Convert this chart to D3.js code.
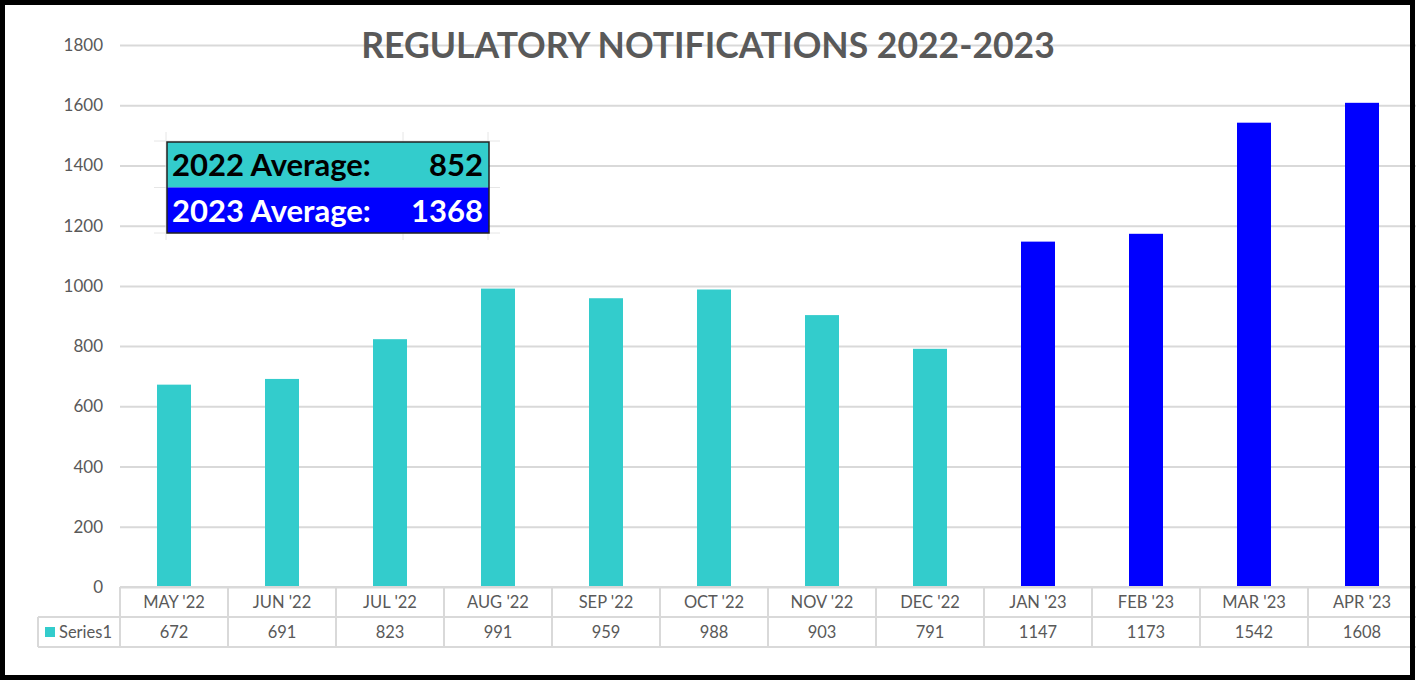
<!DOCTYPE html>
<html>
<head>
<meta charset="utf-8">
<script src="https://cdn.jsdelivr.net/npm/d3@7"></script>
<style>
  html, body { margin: 0; padding: 0; background: #fff; }
  svg { display: block; }
</style>
</head>
<body>
<svg id="chart" width="1417" height="682"></svg>
<script>
// data
const months = ["MAY '22", "JUN '22", "JUL '22", "AUG '22", "SEP '22", "OCT '22",
                "NOV '22", "DEC '22", "JAN '23", "FEB '23", "MAR '23", "APR '23"];
const counts = [672, 691, 823, 991, 959, 988, 903, 791, 1147, 1173, 1542, 1608];
const years = ["2022", "2022", "2022", "2022", "2022", "2022", "2022", "2022",
               "2023", "2023", "2023", "2023"];
const yTicks = [0, 200, 400, 600, 800, 1000, 1200, 1400, 1600, 1800];
const averageLabels = ["2022 Average:", "2023 Average:"];
const averageValues = [852, 1368];

const svg = d3.select("#chart");
const width = +svg.attr("width");
const height = +svg.attr("height");
const font = "Lato, 'Open Sans', sans-serif";
const grey = "#595959";
const gridColor = "#d9d9d9";

const colour = d3.scaleOrdinal().domain(["2022", "2023"]).range(["#33cccc", "#0000ff"]);

// plot area
const plotLeft = 120, plotRight = 1416, plotTop = 45, plotBottom = 587;

const x = d3.scaleBand().domain(months).range([plotLeft, plotRight]).paddingInner(0).paddingOuter(0);
const y = d3.scaleLinear().domain([0, 1800]).range([plotBottom, plotTop]);

// gridlines + y labels
const yAxis = d3.axisLeft(y).tickValues(yTicks).tickFormat(d3.format("d"))
  .tickSize(-(plotRight - plotLeft)).tickPadding(17);
const gy = svg.append("g").attr("transform", `translate(${plotLeft},0)`).call(yAxis);
gy.select(".domain").remove();
gy.selectAll(".tick line").attr("stroke", gridColor).attr("stroke-width", 2);
gy.selectAll(".tick text")
  .attr("fill", grey)
  .style("font-family", font)
  .style("font-size", "17px");

// title
svg.append("text")
  .attr("x", 708).attr("y", 58)
  .attr("text-anchor", "middle")
  .attr("fill", grey)
  .style("font-family", font)
  .style("font-weight", "bold")
  .style("font-size", "35.5px")
  .text("REGULATORY NOTIFICATIONS 2022-2023");

// bars
const barW = 34;
svg.append("g").selectAll("rect")
  .data(counts)
  .join("rect")
  .attr("x", (d, i) => x(months[i]) + x.bandwidth() / 2 - barW / 2)
  .attr("y", d => y(d))
  .attr("width", barW)
  .attr("height", d => y(0) - y(d))
  .attr("fill", (d, i) => colour(years[i]));

// data table under the axis
const rowH = [30, 30];
const tableTop = plotBottom;
const table = svg.append("g");
const tableLine = (x1, y1, x2, y2) => table.append("line")
  .attr("x1", x1).attr("y1", y1).attr("x2", x2).attr("y2", y2)
  .attr("stroke", gridColor).attr("stroke-width", 2);

tableLine(plotLeft, tableTop, plotRight, tableTop);
tableLine(38, tableTop + rowH[0], plotRight, tableTop + rowH[0]);
tableLine(38, tableTop + rowH[0] + rowH[1], plotRight, tableTop + rowH[0] + rowH[1]);
tableLine(38, tableTop + rowH[0], 38, tableTop + rowH[0] + rowH[1]);
months.forEach(m => tableLine(x(m), tableTop, x(m), tableTop + rowH[0] + rowH[1]));

table.selectAll("text.month")
  .data(months)
  .join("text")
  .attr("class", "month")
  .attr("x", d => x(d) + x.bandwidth() / 2)
  .attr("y", tableTop + 21)
  .attr("text-anchor", "middle")
  .attr("fill", grey)
  .style("font-family", font)
  .style("font-size", "16.5px")
  .text(d => d);

table.selectAll("text.value")
  .data(counts)
  .join("text")
  .attr("class", "value")
  .attr("x", (d, i) => x(months[i]) + x.bandwidth() / 2)
  .attr("y", tableTop + rowH[0] + 21)
  .attr("text-anchor", "middle")
  .attr("fill", grey)
  .style("font-family", font)
  .style("font-size", "16.5px")
  .text(d => d);

// legend key in the table
table.append("rect")
  .attr("x", 45).attr("y", tableTop + rowH[0] + 10)
  .attr("width", 10).attr("height", 10)
  .attr("fill", colour("2022"));
table.append("text")
  .attr("x", 59).attr("y", tableTop + rowH[0] + 21)
  .attr("fill", grey)
  .style("font-family", font)
  .style("font-size", "16.5px")
  .text("Series1");

// average box (pasted spreadsheet cells)
const boxX = 167, boxY = 142, boxW = 322, boxRowH = 45.5;
const box = svg.append("g");
// faint cell borders around it
[166, 403, 488].forEach(cx => box.append("line")
  .attr("x1", cx).attr("y1", 132).attr("x2", cx).attr("y2", 240)
  .attr("stroke", "#e6e6e6").attr("stroke-width", 1));
[boxY - 1, boxY + boxRowH, boxY + 2 * boxRowH].forEach(cy => box.append("line")
  .attr("x1", 154).attr("y1", cy).attr("x2", 500).attr("y2", cy)
  .attr("stroke", "#e6e6e6").attr("stroke-width", 1));

averageValues.forEach((v, i) => {
  const yr = i === 0 ? "2022" : "2023";
  const ty = boxY + i * boxRowH;
  box.append("rect")
    .attr("x", boxX).attr("y", ty)
    .attr("width", boxW).attr("height", boxRowH)
    .attr("fill", colour(yr));
  const tc = i === 0 ? "#000" : "#fff";
  box.append("text")
    .attr("x", boxX + 5).attr("y", ty + 34)
    .attr("fill", tc)
    .style("font-family", font)
    .style("font-weight", "bold")
    .style("font-size", "31px")
    .text(averageLabels[i]);
  box.append("text")
    .attr("x", boxX + boxW - 6).attr("y", ty + 34)
    .attr("text-anchor", "end")
    .attr("fill", tc)
    .style("font-family", font)
    .style("font-weight", "bold")
    .style("font-size", "31px")
    .text(v);
});
box.append("rect")
  .attr("x", boxX).attr("y", boxY)
  .attr("width", boxW).attr("height", boxRowH * 2)
  .attr("fill", "none")
  .attr("stroke", "#222").attr("stroke-width", 1.5);

// black frame
svg.append("rect")
  .attr("x", 2.5).attr("y", 2.5)
  .attr("width", width - 7).attr("height", height - 7)
  .attr("fill", "none")
  .attr("stroke", "#000").attr("stroke-width", 5);
</script>
</body>
</html>
